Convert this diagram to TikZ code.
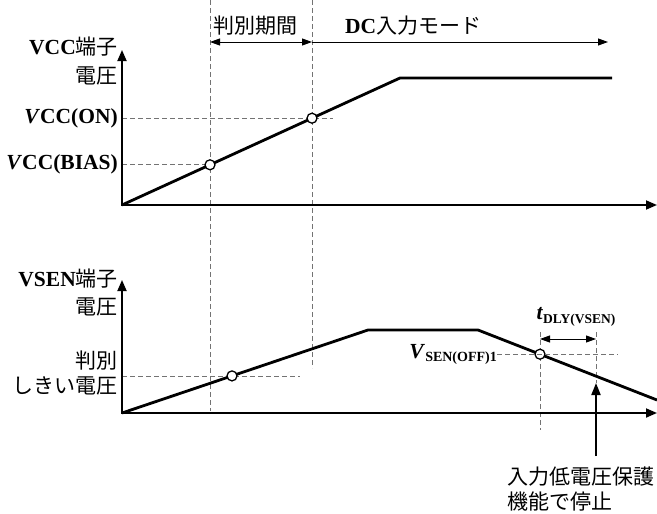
\documentclass[tikz,border=0pt]{standalone}
\usepackage{fontspec}
\setmainfont{Liberation Serif}
\newfontfamily\jp{Noto Sans CJK JP}
\usetikzlibrary{arrows.meta}
\begin{document}
\begin{tikzpicture}[x=1pt,y=-1pt,
  axis/.style={line width=1.8pt,line join=miter,{Triangle[length=11pt,width=9pt]}-{Triangle[length=11pt,width=9pt]}},
  curve/.style={line width=2.8pt,line join=miter},
  guide/.style={black!55,line width=0.8pt,dash pattern=on 5pt off 3pt},
  dimarrow/.style={line width=0.9pt,{Triangle[length=10pt,width=7pt]}-{Triangle[length=10pt,width=7pt]}},
  onearrow/.style={line width=0.9pt,-{Triangle[length=10pt,width=7pt]}},
  uparrow/.style={line width=1.8pt,-{Triangle[length=12pt,width=9pt]}},
  dot/.style={circle,draw,fill=white,line width=1.3pt,inner sep=0pt,minimum size=10pt},
  lbl/.style={font=\fontsize{21.5}{24}\selectfont\bfseries,inner sep=0pt},
  jlbl/.style={font=\fontsize{21}{26}\selectfont\jp,inner sep=0pt},
]
\useasboundingbox (0,0) rectangle (657,514);

% ---------- coordinates ----------
\coordinate (O1) at (122,205);
\coordinate (Y1) at (122,50);
\coordinate (X1) at (657,205);
\coordinate (K1) at (400,78);
\coordinate (E1) at (612,78);
\coordinate (O2) at (122,413);
\coordinate (Y2) at (122,280);
\coordinate (X2) at (657,413);
\coordinate (P1) at (368,330);
\coordinate (P2) at (478,330);
\coordinate (E2) at (657,400);

% ---------- guide lines ----------
\coordinate (gA0) at (210,0);   \coordinate (gA1) at (210,411);
\coordinate (gB0) at (312,0);   \coordinate (gB1) at (312,368);
\draw[guide] (gA0) -- (gA1);
\draw[guide] (gB0) -- (gB1);
\coordinate (hOn0) at (122,118.2);  \coordinate (hOn1) at (333,118.2);
\coordinate (hBi0) at (122,164.8);  \coordinate (hBi1) at (217,164.8);
\draw[guide] (hOn0) -- (hOn1);
\draw[guide] (hBi0) -- (hBi1);
\coordinate (hTh0) at (122,375.9);  \coordinate (hTh1) at (300,375.9);
\draw[guide] (hTh0) -- (hTh1);
\coordinate (vC0) at (540,332);  \coordinate (vC1) at (540,430);
\coordinate (vD0) at (596,332);  \coordinate (vD1) at (596,383);
\draw[guide] (vC0) -- (vC1);
\draw[guide] (vD0) -- (vD1);

% ---------- axes ----------
\draw[axis] (Y1) -- (O1) -- (X1);
\draw[axis] (Y2) -- (O2) -- (X2);

% ---------- curves ----------
\draw[curve] (O1) -- (K1) -- (E1);
\draw[curve] (O2) -- (P1) -- (P2) -- (E2);

% ---------- dots ----------
\node[dot] (bias) at (210,164.8) {};
\node[dot] (on) at (312,118.2) {};
\node[dot] (th) at (232,375.9) {};
\node[dot] (off) at (540,354.2) {};

% ---------- top labels ----------
\node[lbl,anchor=east] (vccT) at (118,47) {VCC{\mdseries\jp\fontsize{21}{26}\selectfont 端子}};
\node[jlbl,anchor=east] (vccT2) at (118,76) {電圧};
\node[lbl,anchor=east] (vccon) at (118,118) {\textit{V}CC(ON)};
\node[lbl,anchor=east] (vccbias) at (118,164.5) {\textit{V}CC(BIAS)};

\node[jlbl] (hanbetsu) at (255,26) {判別期間};
\node[lbl,anchor=west] (dcmode) at (345,26) {DC{\mdseries\jp\fontsize{21}{26}\selectfont 入力モード}};

\coordinate (dA0) at (210,42); \coordinate (dA1) at (312,42);
\coordinate (dB1) at (608,42);
\draw[dimarrow] (dA0) -- (dA1);
\draw[onearrow] (dA1) -- (dB1);

% ---------- bottom labels ----------
\node[lbl,anchor=east] (vsenT) at (118,279) {VSEN{\mdseries\jp\fontsize{21}{26}\selectfont 端子}};
\node[jlbl,anchor=east] (vsenT2) at (118,307) {電圧};
\node[jlbl,anchor=east] (thr1) at (118,361) {判別};
\node[jlbl,anchor=east] (thr2) at (118,386) {しきい電圧};

\node[lbl,anchor=east] (vsenoff) at (497,354.2)
  {\textit{V}\raisebox{-0.35ex}{\fontsize{14}{14}\selectfont SEN(OFF)1}};
\coordinate (hOf1) at (618,354.2);
\draw[guide] (vsenoff.east) -- (hOf1);

\node[lbl] (tdly) at (576,317)
  {\textit{t}\raisebox{-0.35ex}{\fontsize{13.5}{14}\selectfont DLY(VSEN)}};
\coordinate (dC0) at (540,339); \coordinate (dC1) at (596,339);
\draw[dimarrow] (dC0) -- (dC1);

\node[jlbl,anchor=west] (stop1) at (507,477) {入力低電圧保護};
\node[jlbl,anchor=west] (stop2) at (507,502) {機能で停止};
\coordinate (aS0) at (596,456);
\draw[uparrow] (aS0) -- (vD1);

\end{tikzpicture}
\end{document}
